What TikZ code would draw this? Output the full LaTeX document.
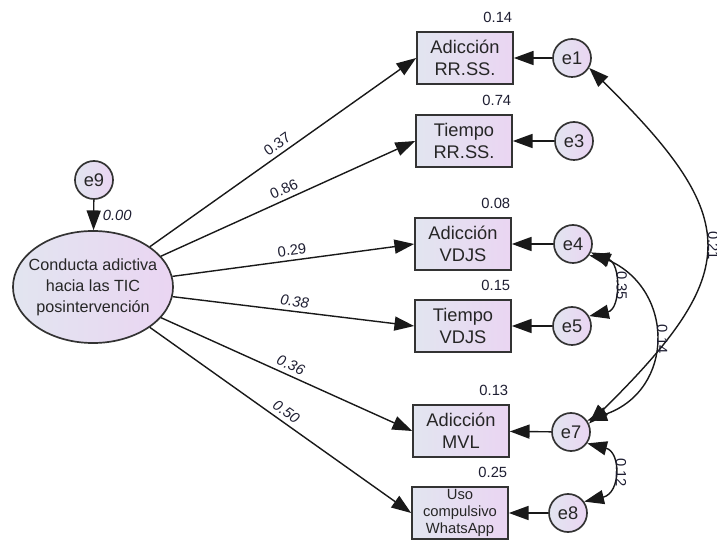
\documentclass[tikz,border=0pt]{standalone}
\usepackage{fontspec}
\setmainfont{Liberation Sans}
\usetikzlibrary{arrows.meta,shapes.geometric,positioning}
\definecolor{fillL}{RGB}{226,229,240}
\definecolor{fillR}{RGB}{234,213,242}
\definecolor{numtxt}{RGB}{30,30,50}
\begin{document}
\begin{tikzpicture}[
  x=0.025cm, y=-0.025cm,
  >={Triangle[length=14pt,width=10pt]},
  obs/.style={rectangle, minimum height=1.3cm, minimum width=2.4cm, draw=black!80, line width=1.2pt, left color=fillL, right color=fillR, align=center, inner sep=1pt, text=black!85, font=\fontsize{13}{16}\selectfont},
  obssmall/.style={obs, font=\fontsize{10.5}{12}\selectfont},
  err/.style={circle, minimum size=0.95cm, draw=black!80, line width=1.2pt, left color=fillL, right color=fillR, inner sep=0pt, text=black!85, font=\fontsize{13}{15}\selectfont},
  lat/.style={ellipse, minimum width=4cm, minimum height=2.8cm, draw=black!80, line width=1.2pt, left color=fillL, right color=fillR, align=center, inner xsep=-9pt, inner ysep=0pt, text=black!85, font=\fontsize{11.5}{15}\selectfont},
  num/.style={inner sep=2pt, text=numtxt, font=\fontsize{10.5}{12}\selectfont},
  inum/.style={num, font=\fontsize{10.5}{12}\selectfont\itshape},
  path/.style={->, line width=1pt, black!90},
  cov/.style={<->, line width=1pt, black!90}
]
\useasboundingbox (0,0) rectangle (717,543);

\node[lat] (cad) at (93,287) {Conducta adictiva\\hacia las TIC\\posintervención};
\node[err] (e9) at (94,180) {e9};

\node[obs] (adrs) at (465,58) {Adicción\\RR.SS.};
\node[obs] (tirs) at (464,141) {Tiempo\\RR.SS.};
\node[obs] (advj) at (463,244) {Adicción\\VDJS};
\node[obs] (tivj) at (463,326) {Tiempo\\VDJS};
\node[obs] (admv) at (461,431) {Adicción\\MVL};
\node[obssmall] (uswa) at (460,513) {Uso\\compulsivo\\WhatsApp};

\node[err] (e1) at (572,58) {e1};
\node[err] (e3) at (574,141) {e3};
\node[err] (e4) at (573,244) {e4};
\node[err] (e5) at (572,326) {e5};
\node[err] (e7) at (571,432) {e7};
\node[err] (e8) at (568,513) {e8};

\node[num, anchor=south east] at ([xshift=1pt,yshift=4pt]adrs.north east) {0.14};
\node[num, anchor=south east] at ([xshift=1pt,yshift=4pt]tirs.north east) {0.74};
\node[num, anchor=south east] at ([xshift=1pt,yshift=4pt]advj.north east) {0.08};
\node[num, anchor=south east] at ([xshift=1pt,yshift=4pt]tivj.north east) {0.15};
\node[num, anchor=south east] at ([xshift=1pt,yshift=4pt]admv.north east) {0.13};
\node[num, anchor=south east] at ([xshift=1pt,yshift=4pt]uswa.north east) {0.25};

\draw[path] (e9) -- node[inum, right=4pt] {0.00} (cad);

\draw[path] (cad) -- node[num, midway, above=1pt, sloped] {0.37} (adrs.west);
\draw[path] (cad) -- node[num, midway, above=1pt, sloped] {0.86} (tirs.west);
\draw[path] (cad) -- node[num, midway, above=1pt, sloped] {0.29} (advj.west);
\draw[path] (cad) -- node[inum, midway, above=1pt, sloped] {0.38} (tivj.west);
\draw[path] (cad) -- node[inum, midway, above=1pt, sloped] {0.36} (admv.west);
\draw[path] (cad) -- node[inum, midway, above=1pt, sloped] {0.50} (uswa.west);

\draw[path] (e1) -- (adrs);
\draw[path] (e3) -- (tirs);
\draw[path] (e4) -- (advj);
\draw[path] (e5) -- (tivj);
\draw[path] (e7) -- (admv);
\draw[path] (e8) -- (uswa);

\draw[cov] (e1.-30) .. controls (743,219) and (743,272) .. (e7.25) node[num, pos=0.5, anchor=south, rotate=-90] {0.21};
\draw[cov] (e4.-25) .. controls (675,290) and (675,390) .. (e7.35) node[num, pos=0.5, anchor=south, rotate=-90] {0.14};
\draw[cov] (e4.-35) .. controls (621,262) and (621,309) .. (e5.30) node[num, pos=0.5, anchor=south, rotate=-90] {0.35};
\draw[cov] (e7.-35) .. controls (621,452) and (621,493) .. (e8.35) node[num, pos=0.5, anchor=south, rotate=-90] {0.12};
\end{tikzpicture}
\end{document}
